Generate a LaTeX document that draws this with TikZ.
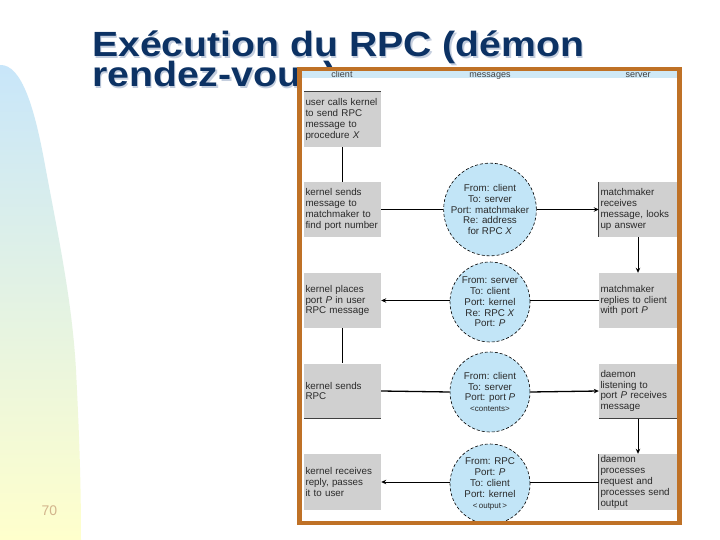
\documentclass[tikz,border=0pt]{standalone}
\usepackage{fontspec}
\setmainfont{Liberation Sans}
\usetikzlibrary{arrows.meta}
\definecolor{titlec}{HTML}{0C3264}
\definecolor{titleshadow}{HTML}{C4CEDE}
\definecolor{framec}{HTML}{BF7126}
\definecolor{bandc}{HTML}{CFE9F6}
\definecolor{boxc}{HTML}{D0D0D0}
\definecolor{circc}{HTML}{C2E5F7}
\definecolor{txtc}{HTML}{2A2A2A}
\definecolor{gradtop}{HTML}{C8E6FA}
\definecolor{gradbot}{HTML}{FFFFCC}
\definecolor{pagec}{HTML}{D2B48C}
\newcommand{\shadowed}[1]{\makebox[0pt][l]{\hspace{1.5pt}\raisebox{-1.5pt}{\textcolor{titleshadow}{\scalebox{1.12}[1]{#1}}}}\scalebox{1.12}[1]{#1}}
\tikzset{
  titletext/.style={anchor=base west, inner sep=0pt, text=titlec, font=\bfseries\fontsize{35}{35}\selectfont},
  procbox/.style={fill=boxc, text=txtc, minimum height=55pt, text width=74pt, inner xsep=1.5pt, inner ysep=0pt, align=left, font=\fontsize{9.8}{10.8}\selectfont},
  msgcirc/.style={circle, fill=circc, draw=black, densely dashed, line width=0.6pt, minimum size=80pt, inner sep=0pt, align=center, text=txtc, font=\fontsize{9.8}{10.8}\selectfont},
  hdr/.style={anchor=base, text=black!75, inner sep=0pt, font=\fontsize{9}{9}\selectfont},
  conn/.style={draw=black, line width=0.9pt},
  arr/.style={conn, -{Stealth[length=5pt,width=4.5pt]}},
  edge/.style={draw=black!75, line width=0.7pt}
}
\begin{document}
\begin{tikzpicture}[x=1pt,y=-1pt]
\useasboundingbox (0,0) rectangle (720,540);
\fill[white] (0,0) rectangle (720,540);
% left gradient decoration
\shade[top color=gradtop, bottom color=gradbot]
  (0,540) -- (0,65) .. controls (22,64) and (35,110) .. (45,165)
  .. controls (58,235) and (72,300) .. (76,370)
  .. controls (79,430) and (81,480) .. (81,540) -- cycle;
\node[anchor=base, text=pagec, inner sep=0pt, font=\fontsize{14}{14}\selectfont] (pnum) at (49.5,515) {70};
% title
\node[titletext] (t1) at (92,57) {\shadowed{Exécution du RPC (démon}};
\node[titletext] (t2) at (92,87) {\shadowed{rendez-vous)}};
% figure background
\fill[white] (299.5,69) rectangle (679.5,523);
\fill[bandc] (301.75,71.25) rectangle (677.25,78.5);
\node[hdr] (hclient) at (342,77.5) {client};
\node[hdr] (hmsg) at (490,77.5) {messages};
\node[hdr] (hserver) at (638,77.5) {server};
% client boxes
\node[procbox] (l1) at (342.5,119.5) {user calls kernel\\to send RPC\\message to\\procedure \textit{X}};
\node[procbox] (l2) at (342.5,209.5) {kernel sends\\message to\\matchmaker to\\find port number};
\node[procbox] (l3) at (342.5,300.5) {kernel places\\port \textit{P} in user\\RPC message};
\node[procbox] (l4) at (342.5,391) {kernel sends\\RPC};
\node[procbox, minimum height=56pt] (l5) at (342.5,482) {kernel receives\\reply, passes\\it to user};
% server boxes
\node[procbox, text width=75pt] (r1) at (638,209.5) {matchmaker\\receives\\message, looks\\up answer};
\node[procbox, text width=75pt] (r2) at (638,300.5) {matchmaker\\replies to client\\with port \textit{P}};
\node[procbox, text width=75pt] (r3) at (638,391) {daemon\\listening to\\port \textit{P} receives\\message};
\node[procbox, text width=75pt, minimum height=56pt] (r4) at (638,482) {daemon\\processes\\request and\\processes send\\output};
% box edge lines
\draw[edge] (l1.north west) -- (l1.north east);
\draw[edge] (r1.north west) -- (r1.south west);
\draw[edge] (r4.north west) -- (r4.south west);
\draw[edge] (l4.south west) -- (l4.south east);
\draw[edge] (r3.south west) -- (r3.south east);
% messages
\node[msgcirc] (c1) at (490,209.5) {From: client\\To: server\\Port: matchmaker\\Re: address\\for RPC \textit{X}};
\node[msgcirc] (c2) at (490,302) {From: server\\To: client\\Port: kernel\\Re: RPC \textit{X}\\Port: \textit{P}};
\node[msgcirc] (c3) at (490,392) {From: client\\To: server\\Port: port \textit{P}\\{\fontsize{8}{10}\selectfont<contents>}};
\node[msgcirc] (c4) at (490,484) {From: RPC\\Port: \textit{P}\\To: client\\Port: kernel\\{\fontsize{8}{10}\selectfont<\,output\,>}};
% connectors
\draw[conn] (l1.south) -- (l2.north);
\draw[conn] (l2.east) -- (c1.west);
\draw[arr] (c1.east) -- (r1.west);
\draw[arr] (r1.south) -- (r2.north);
\draw[conn] (r2.west) -- (c2.east |- r2.west);
\draw[arr] (c2.west |- l3.east) -- (l3.east);
\draw[conn] (l3.south) -- (l4.north);
\draw[conn, line width=1.3pt] (l4.east) -- (c3.west);
\draw[arr, line width=1.3pt] (c3.east) -- (r3.west);
\draw[arr] (r3.south) -- (r4.north);
\draw[conn] (r4.west) -- (c4.east |- r4.west);
\draw[arr] (c4.west |- l5.east) -- (l5.east);
% frame
\draw[framec, line width=4.5pt] (299.5,69) rectangle (679.5,523);
\end{tikzpicture}
\end{document}
